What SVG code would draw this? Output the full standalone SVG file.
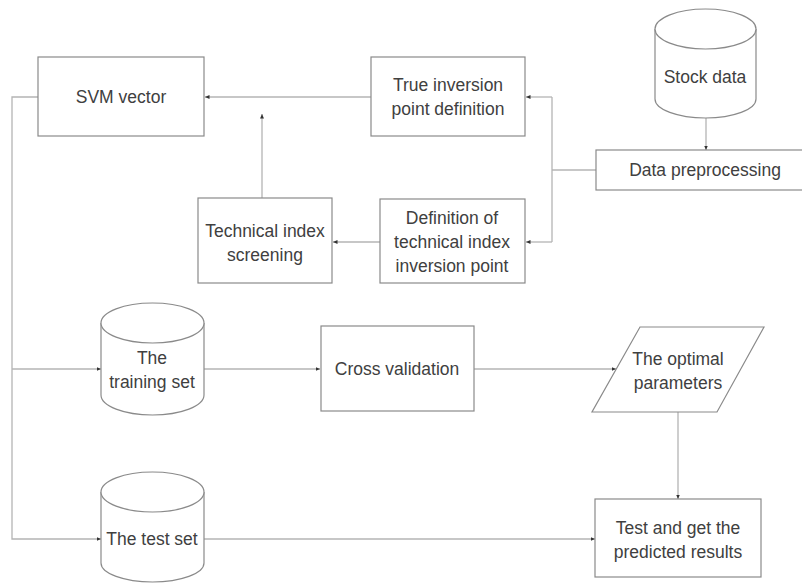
<svg xmlns="http://www.w3.org/2000/svg" width="802" height="583" viewBox="0 0 802 583">
<defs>
<style>
.n{fill:#fff;stroke:#8a8a8a;stroke-width:1.2}
.t{font-family:"Liberation Sans",Arial,sans-serif;font-size:17.5px;fill:#404040;text-anchor:middle}
.c{fill:none;stroke:#b4b4b4;stroke-width:1.3}
</style>
<marker id="a" markerWidth="5" markerHeight="5" refX="4.5" refY="2.5" orient="auto" markerUnits="userSpaceOnUse">
<path d="M0,0.5 L4.5,2.5 L0,4.5 z" fill="#333"/>
</marker>
</defs>
<rect width="802" height="583" fill="#fff"/>
<g id="connectors">
<path class="c" d="M371,97 H205" marker-end="url(#a)"/>
<path class="c" d="M262,198 V114" marker-end="url(#a)"/>
<path class="c" d="M596,170 H552"/>
<path class="c" d="M552,97 V242"/>
<path class="c" d="M552,97 H526" marker-end="url(#a)"/>
<path class="c" d="M552,242 H526" marker-end="url(#a)"/>
<path class="c" d="M380,242 H333" marker-end="url(#a)"/>
<path class="c" d="M706,118 V150" marker-end="url(#a)"/>
<path class="c" d="M38,97 H12 V539 H101" marker-end="url(#a)"/>
<path class="c" d="M12,369 H101" marker-end="url(#a)"/>
<path class="c" d="M204,369 H320" marker-end="url(#a)"/>
<path class="c" d="M474,369 H616" marker-end="url(#a)"/>
<path class="c" d="M678,412 V499" marker-end="url(#a)"/>
<path class="c" d="M204,539 H595" marker-end="url(#a)"/>
</g>
<g id="svm">
<rect class="n" x="38" y="57" width="166" height="79"/>
<text class="t" x="121" y="103">SVM vector</text>
</g>
<g id="true-inversion">
<rect class="n" x="371" y="57" width="154" height="79"/>
<text class="t" x="448" y="91">True inversion</text>
<text class="t" x="448" y="115">point definition</text>
</g>
<g id="stock-data">
<path class="n" d="M655,29 V99 A50.5,19 0 0 0 756,99 V29"/>
<ellipse class="n" cx="705.5" cy="29" rx="50.5" ry="20"/>
<text class="t" x="705" y="83">Stock data</text>
</g>
<g id="preprocessing">
<rect class="n" x="596" y="150" width="220" height="40"/>
<text class="t" x="705" y="176">Data preprocessing</text>
</g>
<g id="tech-screening">
<rect class="n" x="198" y="198" width="134" height="85"/>
<text class="t" x="265" y="237">Technical index</text>
<text class="t" x="265" y="261">screening</text>
</g>
<g id="tech-definition">
<rect class="n" x="380" y="199" width="145" height="84"/>
<text class="t" x="452" y="224">Definition of</text>
<text class="t" x="452" y="248">technical index</text>
<text class="t" x="452" y="272">inversion point</text>
</g>
<g id="training-set">
<path class="n" d="M101,323 V395 A51.5,20 0 0 0 204,395 V323"/>
<ellipse class="n" cx="152.5" cy="323" rx="51.5" ry="20"/>
<text class="t" x="152" y="364">The</text>
<text class="t" x="152" y="388">training set</text>
</g>
<g id="cross-validation">
<rect class="n" x="321" y="326" width="153" height="85"/>
<text class="t" x="397" y="375">Cross validation</text>
</g>
<g id="optimal-params">
<polygon class="n" points="640,327 764,327 717,412 592,412"/>
<text class="t" x="678" y="365">The optimal</text>
<text class="t" x="678" y="389">parameters</text>
</g>
<g id="test-set">
<path class="n" d="M101,492 V563 A51.5,19 0 0 0 204,563 V492"/>
<ellipse class="n" cx="152.5" cy="492" rx="51.5" ry="20"/>
<text class="t" x="152" y="545">The test set</text>
</g>
<g id="test-results">
<rect class="n" x="595" y="499" width="166" height="78"/>
<text class="t" x="678" y="534">Test and get the</text>
<text class="t" x="678" y="558">predicted results</text>
</g>
</svg>
